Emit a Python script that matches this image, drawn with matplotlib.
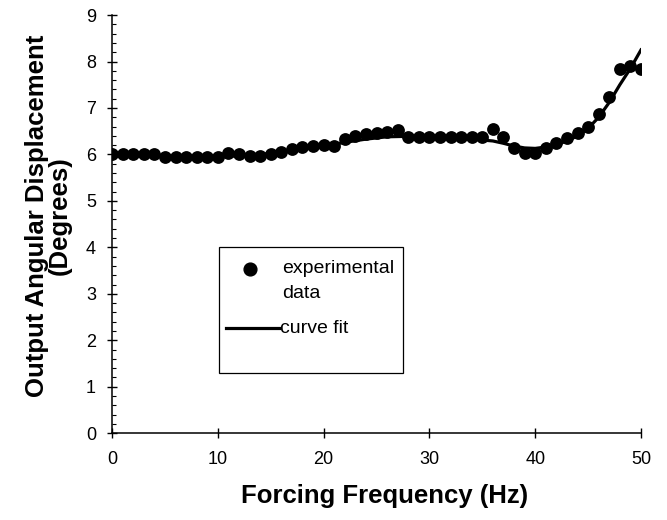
import matplotlib
matplotlib.use("Agg")
import matplotlib.pyplot as plt
from matplotlib.ticker import MultipleLocator
from matplotlib.patches import Rectangle

plt.rcParams['font.family'] = ['Liberation Sans', 'DejaVu Sans']

# experimental data
freq = list(range(0, 51))
disp = [6.02, 6.02, 6.02, 6.02, 6.02, 5.95, 5.94, 5.94, 5.94, 5.94,
        5.95, 6.03, 6.02, 5.97, 5.97, 6.02, 6.06, 6.12, 6.16, 6.18,
        6.20, 6.18, 6.34, 6.40, 6.43, 6.46, 6.49, 6.52, 6.38, 6.37,
        6.37, 6.37, 6.37, 6.37, 6.37, 6.37, 6.55, 6.38, 6.13, 6.04,
        6.03, 6.13, 6.24, 6.35, 6.47, 6.58, 6.87, 7.24, 7.85, 7.90,
        7.85]

# curve fit
fit_x = [0, 2, 4, 6, 8, 10, 12, 14, 16, 18, 20, 22, 24, 26, 28, 30,
         32, 34, 36, 37, 38, 39, 40, 41, 42, 43, 44, 45, 46, 47, 48,
         49, 50]
fit_y = [6.00, 5.99, 5.97, 5.95, 5.94, 5.95, 5.97, 6.00, 6.05, 6.11,
         6.18, 6.26, 6.33, 6.38, 6.39, 6.37, 6.35, 6.33, 6.29, 6.24,
         6.18, 6.14, 6.13, 6.16, 6.21, 6.29, 6.40, 6.56, 6.80, 7.12,
         7.50, 7.85, 8.25]

fig = plt.figure(figsize=(6.67, 5.2), dpi=100)
ax = fig.add_axes([0.168, 0.167, 0.793, 0.804])

ax.plot(fit_x, fit_y, color='black', lw=2.3, zorder=2)
ax.scatter(freq, disp, s=85, color='black', zorder=3, linewidths=0)

ax.set_xlim(0, 50)
ax.set_ylim(0, 9)
ax.xaxis.set_major_locator(MultipleLocator(10))
ax.yaxis.set_major_locator(MultipleLocator(1))
ax.yaxis.set_minor_locator(MultipleLocator(0.2))

for s in ['top', 'right']:
    ax.spines[s].set_visible(False)
for s in ['left', 'bottom']:
    ax.spines[s].set_linewidth(1.1)

ax.tick_params(axis='both', which='major', direction='inout', length=7,
               width=1.0, labelsize=13)
ax.tick_params(axis='x', which='major', pad=9)
ax.tick_params(axis='y', which='major', pad=8)
ax.tick_params(axis='y', which='minor', direction='in', length=3, width=0.8)

ax.set_xlabel('Forcing Frequency (Hz)', fontsize=18.5, fontweight='bold')
ax.xaxis.set_label_coords(0.515, -0.122)
ax.set_ylabel('Output Angular Displacement\n(Degrees)', fontsize=18.5,
              fontweight='bold', linespacing=0.92)
ax.yaxis.set_label_coords(-0.076, 0.52)

# legend box (manual, positioned in axes fraction)
tr = ax.transAxes
ax.add_patch(Rectangle((0.202, 0.144), 0.348, 0.301, transform=tr,
                       fill=False, edgecolor='black', lw=0.9, zorder=4,
                       clip_on=False))
ax.plot([0.261], [0.393], marker='o', markersize=9.2, color='black',
        transform=tr, clip_on=False, zorder=5)
ax.text(0.321, 0.395, 'experimental', transform=tr, fontsize=14,
        va='center', ha='left')
ax.text(0.321, 0.335, 'data', transform=tr, fontsize=14,
        va='center', ha='left')
ax.plot([0.2155, 0.316], [0.251, 0.251], color='black', lw=2.3,
        transform=tr, clip_on=False, zorder=5)
ax.text(0.318, 0.251, 'curve fit', transform=tr, fontsize=14,
        va='center', ha='left')

fig.savefig('out.png', dpi=100)
